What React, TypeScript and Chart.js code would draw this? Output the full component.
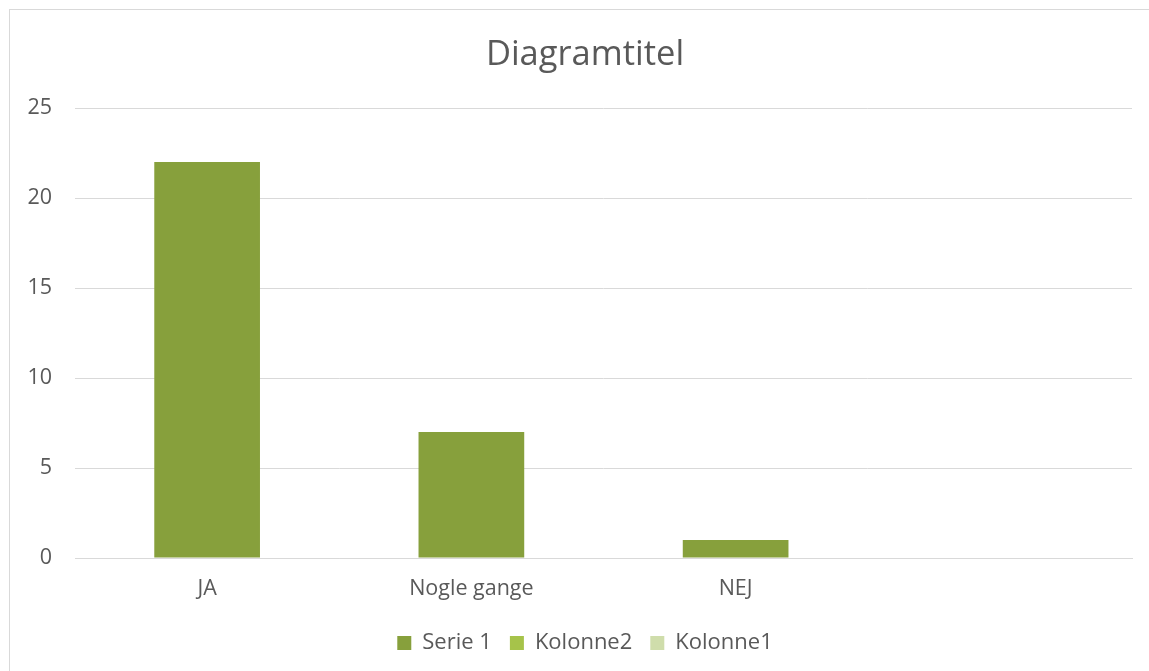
import React, { useEffect, useRef } from "react";
import { Chart, registerables } from "chart.js";

Chart.register(...registerables);

const categories = ["JA", "Nogle gange", "NEJ", ""];
const serie1 = [22, 7, 1, null];
const kolonne2: (number | null)[] = [null, null, null, null];
const kolonne1: (number | null)[] = [null, null, null, null];
const yTicks = [0, 5, 10, 15, 20, 25];
const titleText = "Diagramtitel";

const FONT = "'Open Sans', 'Liberation Sans', sans-serif";
const TEXT = "#595959";

const shiftBlocks = {
  id: "shiftBlocks",
  afterLayout(chart: any) {
    if (chart.titleBlock) chart.titleBlock.left = 28;
    if (chart.legend) {
      chart.legend.left = 28;
      chart.legend.adjustHitBoxes && chart.legend.adjustHitBoxes();
    }
  },
};

export default function App() {
  const ref = useRef<HTMLCanvasElement | null>(null);
  useEffect(() => {
    if (!ref.current) return;
    const chart = new Chart(ref.current, {
      type: "bar",
      data: {
        labels: categories,
        datasets: [
          { label: "Serie 1", data: serie1, backgroundColor: "#87A03C", borderWidth: 0 },
          { label: "Kolonne2", data: kolonne2, backgroundColor: "#A6C34A", borderWidth: 0 },
          { label: "Kolonne1", data: kolonne1, backgroundColor: "#CFDDAB", borderWidth: 0 },
        ],
      },
      options: {
        responsive: false,
        animation: false,
        layout: { padding: { left: 0, right: 17, top: 0, bottom: 7 } },
        datasets: { bar: { grouped: false, categoryPercentage: 0.5, barPercentage: 0.8 } },
        plugins: {
          title: {
            display: true,
            text: titleText,
            color: TEXT,
            font: { family: FONT, size: 34.5, weight: "normal" },
            padding: { top: 24.3, bottom: 32.3 },
          },
          legend: {
            position: "bottom",
            labels: {
              color: TEXT,
              font: { family: FONT, size: 22 },
              boxWidth: 14,
              boxHeight: 14,
              padding: 18,
            },
          },
          tooltip: { enabled: false },
        },
        scales: {
          x: {
            grid: { display: false, drawTicks: false },
            border: { display: true, color: "#D9D9D9", width: 1 },
            ticks: { color: TEXT, font: { family: FONT, size: 21.5 }, padding: 17.5 },
            afterFit: (s: any) => { s.height = 56; },
          },
          y: {
            min: 0,
            max: 25,
            afterBuildTicks: (s: any) => { s.ticks = yTicks.map((v) => ({ value: v })); },
            grid: { color: "#D9D9D9", lineWidth: 1, drawTicks: false },
            border: { display: false },
            ticks: { color: TEXT, font: { family: FONT, size: 21.5 }, padding: 23 },
            afterFit: (s: any) => { s.width = 65; },
          },
        },
      },
      plugins: [shiftBlocks],
    } as any);
    return () => chart.destroy();
  }, []);
  return (
    <div
      style={{
        position: "absolute",
        left: 9,
        top: 9,
        borderLeft: "1px solid #D9D9D9",
        borderTop: "1px solid #D9D9D9",
        width: 1139,
        height: 661,
        background: "#fff",
      }}
    >
      <canvas ref={ref} width={1139} height={661} style={{ display: "block" }} />
    </div>
  );
}
